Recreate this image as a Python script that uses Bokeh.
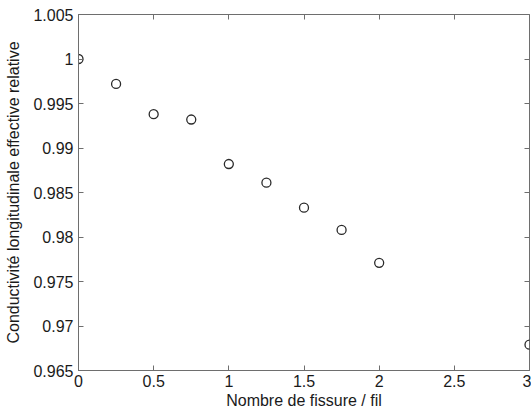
from bokeh.plotting import figure
from bokeh.models import (ColumnDataSource, Range1d, LinearAxis, FixedTicker,
                          CustomJSTickFormatter)
from bokeh.embed import file_html
from bokeh.resources import INLINE

# Number of cracks per fibre and the relative effective longitudinal conductivity
fissures = [0.0, 0.25, 0.5, 0.75, 1.0, 1.25, 1.5, 1.75, 2.0, 3.0]
conductivite = [1.0, 0.9972, 0.9938, 0.9932, 0.9882, 0.9861, 0.9833, 0.9808, 0.9771, 0.9679]

x_ticks = [0, 0.5, 1, 1.5, 2, 2.5, 3]
y_ticks = [0.965, 0.97, 0.975, 0.98, 0.985, 0.99, 0.995, 1.0, 1.005]

x_label = "Nombre de fissure / fil"
y_label = "Conductivité longitudinale effective relative"

FONT = "Liberation Sans"
AXIS_COLOR = "#6e6e6e"
TEXT_COLOR = "#1a1a1a"

src = ColumnDataSource(data=dict(x=fissures, y=conductivite))

p = figure(width=531, height=416, output_backend="svg", toolbar_location=None,
           x_range=Range1d(0, 3), y_range=Range1d(0.965, 1.005),
           frame_width=451, frame_height=356,
           min_border_left=78, min_border_right=2, min_border_top=14, min_border_bottom=46,
           x_axis_label=x_label, y_axis_label=y_label)

p.background_fill_color = "white"
p.border_fill_color = "white"
p.outline_line_color = AXIS_COLOR
p.outline_line_width = 1
p.xgrid.visible = False
p.ygrid.visible = False

fmt = CustomJSTickFormatter(code="return String(parseFloat(tick.toFixed(6)));")
blank = CustomJSTickFormatter(code="return '';")

def style_axis(ax, ticks, show_labels=True):
    ax.ticker = FixedTicker(ticks=ticks)
    ax.formatter = fmt if show_labels else blank
    ax.major_tick_in = 5
    ax.major_tick_out = 0
    ax.minor_tick_line_color = None
    ax.axis_line_color = AXIS_COLOR if show_labels else None
    ax.major_tick_line_color = AXIS_COLOR
    ax.major_label_text_font = FONT
    ax.major_label_text_font_size = "16px"
    ax.major_label_text_color = TEXT_COLOR
    ax.axis_label_text_font = FONT
    ax.axis_label_text_font_size = "16px"
    ax.axis_label_text_font_style = "normal"
    ax.axis_label_text_color = TEXT_COLOR
    if not show_labels:
        ax.major_label_standoff = 0

style_axis(p.xaxis[0], x_ticks)
style_axis(p.yaxis[0], y_ticks)
p.xaxis[0].major_label_standoff = 4
p.xaxis[0].axis_label_standoff = 2
p.yaxis[0].major_label_standoff = 5
p.yaxis[0].axis_label_standoff = 8

# mirrored tick marks on the top and right edges of the box
top = LinearAxis()
style_axis(top, x_ticks, show_labels=False)
right = LinearAxis()
style_axis(right, y_ticks, show_labels=False)
p.add_layout(top, "above")
p.add_layout(right, "right")

p.scatter("x", "y", source=src, marker="circle", size=9,
          fill_color=None, line_color="#2a2a2a", line_width=1.3)

open("out.html", "w").write(file_html(p, INLINE))
